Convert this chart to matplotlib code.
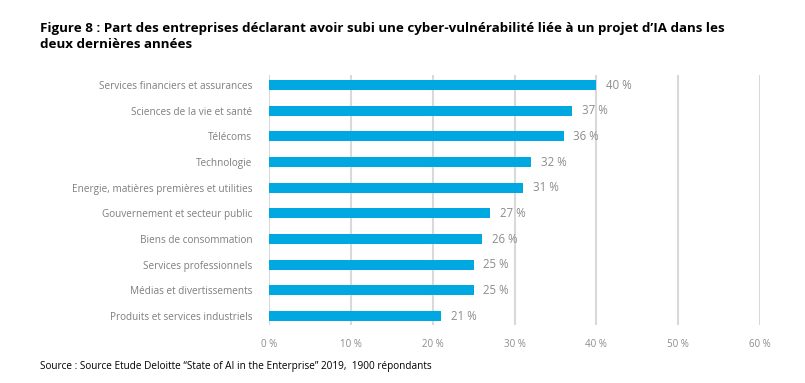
import matplotlib
matplotlib.use("Agg")
import matplotlib.pyplot as plt

categories = [
    "Services financiers et assurances",
    "Sciences de la vie et santé",
    "Télécoms",
    "Technologie",
    "Energie, matières premières et utilities",
    "Gouvernement et secteur public",
    "Biens de consommation",
    "Services professionnels",
    "Médias et divertissements",
    "Produits et services industriels",
]
values = [40, 37, 36, 32, 31, 27, 26, 25, 25, 21]
xticks = [0, 10, 20, 30, 40, 50, 60]
xtick_labels = ["0 %", "10 %", "20 %", "30 %", "40 %", "50 %", "60 %"]

title = ("Figure 8 : Part des entreprises déclarant avoir subi une cyber-vulnérabilité liée à un projet d’IA dans les\n"
         "deux dernières années")
source = "Source : Source Etude Deloitte “State of AI in the Enterprise” 2019,  1900 répondants"

plt.rcParams['font.family'] = ['Open Sans', 'DejaVu Sans']

fig = plt.figure(figsize=(8.05, 3.83), dpi=100)
ax = fig.add_axes([269/805, 1-325/383, (760-269)/805, (325-75)/383])

n = len(categories)
ypos = list(range(n - 1, -1, -1))
ax.barh(ypos, values, height=0.4, color="#00A8E1", zorder=3)
for y, v in zip(ypos, values):
    ax.text(v + 1.2, y, f"{v} %", va="center", ha="left", fontsize=8.3, color="#8c8c8c")

ax.set_xlim(0, 60)
ax.set_ylim(-0.35, n - 1 + 0.39)
ax.set_yticks(ypos)
ax.set_yticklabels(categories, fontsize=7.2, color="#7f7f7f")
ax.set_xticks(xticks)
ax.set_xticklabels(xtick_labels, fontsize=7, color="#8c8c8c")
ax.tick_params(axis="y", length=0, pad=12)
ax.tick_params(axis="x", length=0, pad=10)
ax.grid(axis="x", color="#d9d9d9", linewidth=1.5, zorder=0)
for s in ax.spines.values():
    s.set_visible(False)

fig.text(40/805, 1-22/383, title, fontsize=9.6, fontweight="bold", color="#000000",
         va="top", ha="left", linespacing=1.25)
fig.text(40/805, 1-366/383, source, fontsize=7.2, color="#000000", va="center", ha="left")

fig.savefig("out.png", dpi=100)
